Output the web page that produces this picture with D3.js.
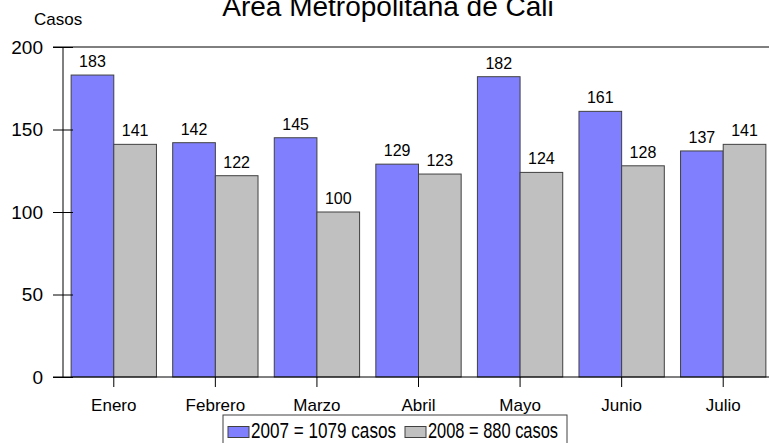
<!DOCTYPE html>
<html>
<head>
<meta charset="utf-8">
<script src="https://cdn.jsdelivr.net/npm/d3@7"></script>
<style>
  body { margin: 0; background: #fff; }
  svg { display: block; }
  text { font-family: "Liberation Sans", Arial, sans-serif; fill: #000; }
</style>
</head>
<body>
<svg id="chart" width="769" height="443"></svg>
<script>
// data
const months = ['Enero', 'Febrero', 'Marzo', 'Abril', 'Mayo', 'Junio', 'Julio'];
const series = ['2007', '2008'];
const casos2007 = [183, 142, 145, 129, 182, 161, 137];
const casos2008 = [141, 122, 100, 123, 124, 128, 141];
const legendLabels = ['2007 = 1079 casos', '2008 = 880 casos'];
const yTicks = [0, 50, 100, 150, 200];

const colors = { '2007': '#8080ff', '2008': '#c0c0c0' };

const rows = months.map((m, i) => ({ month: m, '2007': casos2007[i], '2008': casos2008[i] }));

const svg = d3.select('#chart');

const plotLeft = 63, plotRight = 774, plotTop = 47, plotBottom = 377;

const x = d3.scaleBand()
  .domain(months)
  .range([plotLeft, plotRight])
  .paddingInner(0.16)
  .paddingOuter(0.08);

const xSub = d3.scaleBand()
  .domain(series)
  .range([0, x.bandwidth()]);

const y = d3.scaleLinear()
  .domain([0, 200])
  .range([plotBottom, plotTop]);

// title + axis title (title is cut by the top edge in the original)
svg.append('text')
  .attr('x', 388)
  .attr('y', 16)
  .attr('text-anchor', 'middle')
  .style('font-size', '28px')
  .text('Área Metropolitana de Cali');

svg.append('text')
  .attr('x', 34)
  .attr('y', 25)
  .style('font-size', '17px')
  .text('Casos');

// bars
const groups = svg.selectAll('.grupo')
  .data(rows)
  .join('g')
  .attr('class', 'grupo')
  .attr('transform', d => `translate(${x(d.month)},0)`);

groups.selectAll('rect')
  .data(d => series.map(s => ({ key: s, value: d[s] })))
  .join('rect')
  .attr('x', d => xSub(d.key))
  .attr('y', d => y(d.value))
  .attr('width', xSub.bandwidth())
  .attr('height', d => y(0) - y(d.value))
  .attr('fill', d => colors[d.key])
  .attr('stroke', '#404040')
  .attr('stroke-width', 1);

groups.selectAll('.valor')
  .data(d => series.map(s => ({ key: s, value: d[s] })))
  .join('text')
  .attr('class', 'valor')
  .attr('x', d => xSub(d.key) + xSub.bandwidth() / 2)
  .attr('y', d => y(d.value) - 8)
  .attr('text-anchor', 'middle')
  .style('font-size', '16px')
  .text(d => d.value);

// y axis
const yAxis = d3.axisLeft(y)
  .tickValues(yTicks)
  .tickSize(10)
  .tickPadding(10);

const gy = svg.append('g')
  .attr('transform', `translate(${plotLeft},0)`)
  .call(yAxis);
gy.select('.domain').remove();
gy.selectAll('.tick line').attr('x2', 10).attr('x1', -10).attr('stroke', '#000');
gy.selectAll('.tick text')
  .style('font-size', '19px')
  .style('font-family', '"Liberation Sans", Arial, sans-serif');

svg.append('line')
  .attr('x1', plotLeft).attr('x2', plotLeft)
  .attr('y1', plotTop).attr('y2', plotBottom)
  .attr('stroke', '#000');

svg.append('line')
  .attr('x1', plotLeft - 10).attr('x2', 769)
  .attr('y1', plotTop).attr('y2', plotTop)
  .attr('stroke', '#000');

// x axis
const gx = svg.append('g')
  .attr('transform', `translate(0,${plotBottom})`)
  .call(d3.axisBottom(x).tickSize(10).tickPadding(12));
gx.select('.domain').remove();
gx.selectAll('.tick line').attr('stroke', '#000');
gx.selectAll('.tick text')
  .style('font-size', '17px')
  .style('font-family', '"Liberation Sans", Arial, sans-serif');

svg.append('line')
  .attr('x1', plotLeft - 10).attr('x2', 769)
  .attr('y1', plotBottom).attr('y2', plotBottom)
  .attr('stroke', '#000');

// legend (box runs past the bottom edge)
const legend = svg.append('g').attr('transform', 'translate(223,415)');
legend.append('rect')
  .attr('width', 344).attr('height', 40)
  .attr('fill', '#fff').attr('stroke', '#404040');

const legendX = [5, 182];
const legendW = [145, 130];
const items = legend.selectAll('.item')
  .data(series)
  .join('g')
  .attr('class', 'item')
  .attr('transform', (d, i) => `translate(${legendX[i]},0)`);

items.append('rect')
  .attr('y', 11.5).attr('width', 21).attr('height', 11)
  .attr('fill', d => colors[d]).attr('stroke', '#404040');

items.append('text')
  .attr('x', 23).attr('y', 23)
  .style('font-size', '22px')
  .attr('textLength', (d, i) => legendW[i])
  .attr('lengthAdjust', 'spacingAndGlyphs')
  .text((d, i) => legendLabels[i]);
</script>
</body>
</html>
